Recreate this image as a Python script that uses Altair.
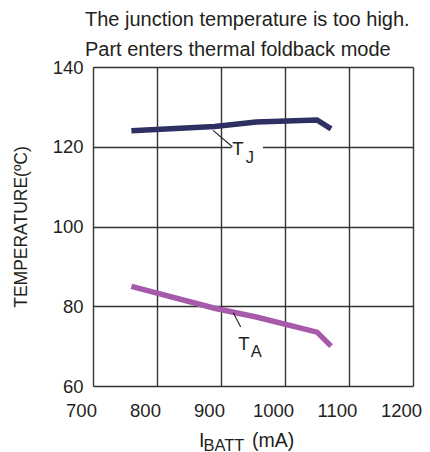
import altair as alt
import pandas as pd

# Data
i_batt = [760, 890, 955, 1050, 1072]
t_junction = [124.0, 125.1, 126.2, 126.7, 124.5]
t_ambient = [85.0, 79.5, 77.3, 73.5, 70.0]

x_ticks = [700, 800, 900, 1000, 1100, 1200]
y_ticks = [60, 80, 100, 120, 140]

FONT = "Liberation Sans"
TXT = "#231f20"
NAVY = "#2e2f63"
PURPLE = "#a75aaa"

rows = []
for x, tj, ta in zip(i_batt, t_junction, t_ambient):
    rows.append({"I": x, "T": tj, "s": "TJ"})
    rows.append({"I": x, "T": ta, "s": "TA"})
df = pd.DataFrame(rows)

xs = alt.Scale(domain=[700, 1200], nice=False)
ys = alt.Scale(domain=[60, 140], nice=False)

xax = alt.Axis(values=x_ticks, grid=True, gridColor="#333333", gridWidth=1.4,
               domain=False, ticks=False, labelFont=FONT, labelFontSize=18.5,
               labelColor=TXT, labelPadding=15, labelOffset=-12, title=None,
               labelFlush=False, format="d")
yax = alt.Axis(values=y_ticks, grid=True, gridColor="#333333", gridWidth=1.4,
               domain=False, ticks=False, labelFont=FONT, labelFontSize=18.5,
               labelColor=TXT, labelPadding=10, title=None, labelFlush=False, format="d")

lines = alt.Chart(df).mark_line(strokeWidth=5.5, strokeCap="butt", strokeJoin="miter").encode(
    x=alt.X("I:Q", scale=xs, axis=xax),
    y=alt.Y("T:Q", scale=ys, axis=yax),
    color=alt.Color("s:N", scale=alt.Scale(domain=["TJ", "TA"], range=[NAVY, PURPLE]), legend=None),
    detail="s:N",
)

# white gap in the 120 gridline behind the T_J label
gap = alt.Chart(pd.DataFrame({"a": [0]})).mark_rect(color="white").encode(
    x=alt.datum(916.5, scale=xs), x2=alt.datum(965.5),
    y=alt.datum(119.2, scale=ys), y2=alt.datum(120.8),
)

# leader lines
lead_df = pd.DataFrame({
    "x": [887.5, 917.8, 919.2, 930.8],
    "y": [124.1, 120.0, 78.35, 74.8],
    "g": ["j", "j", "a", "a"],
})
leaders = alt.Chart(lead_df).mark_line(color="#222222", strokeWidth=1.1).encode(
    x=alt.X("x:Q", scale=xs), y=alt.Y("y:Q", scale=ys), detail="g:N"
)

lab_df = pd.DataFrame({
    "x": [926.6, 935.6], "y": [117.9, 69.0], "t": ["T", "T"]
})
labs = alt.Chart(lab_df).mark_text(font=FONT, fontSize=18.5, color=TXT, align="center",
                                   baseline="alphabetic").encode(
    x=alt.X("x:Q", scale=xs), y=alt.Y("y:Q", scale=ys), text="t:N")
sub_df = pd.DataFrame({
    "x": [945.3, 955.0], "y": [115.8, 67.3], "t": ["J", "A"]
})
subs = alt.Chart(sub_df).mark_text(font=FONT, fontSize=16.5, color=TXT, align="center",
                                   baseline="alphabetic").encode(
    x=alt.X("x:Q", scale=xs), y=alt.Y("y:Q", scale=ys), text="t:N")

def txt(s, x, y, size, align="left", angle=0, baseline="alphabetic"):
    kw = dict(font=FONT, fontSize=size, color=TXT, align=align, baseline=baseline)
    if angle:
        kw["angle"] = angle
    return alt.Chart(pd.DataFrame({"a": [0]})).mark_text(**kw).encode(
        x=alt.value(x), y=alt.value(y), text=alt.value(s))

title1 = txt("The junction temperature is too high.", -8, -41, 20)
title2 = txt("Part enters thermal foldback mode", -8, -11, 20)
ytitle = txt("TEMPERATURE(ºC)", -71, 160, 17.5, align="center", angle=270, baseline="middle")
xt1 = txt("I", 106, 379.5, 19.5)
xt2 = txt("BATT", 110.5, 383.5, 16.5)
xt3 = txt("(mA)", 159, 379.5, 19.5)

chart = alt.layer(gap, lines, leaders, labs, subs, title1, title2, ytitle, xt1, xt2, xt3).properties(
    width=320, height=319,
    autosize=alt.AutoSizeParams(type="none"),
    padding={"left": 85, "top": 59, "right": 9, "bottom": 66},
).configure_view(stroke=TXT, strokeWidth=2.5).configure(background="white")

chart.save("out.html", embed_options={"renderer": "svg", "actions": False})
